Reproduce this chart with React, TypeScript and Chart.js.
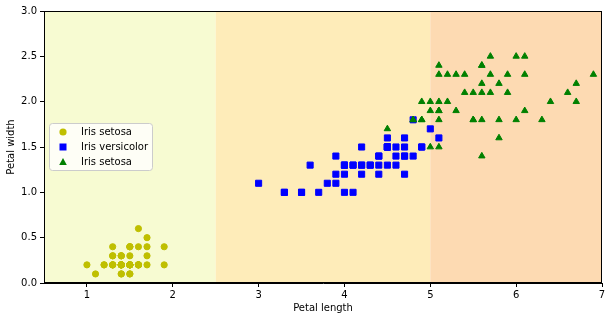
import React, { useEffect, useRef } from "react";
import { Chart, registerables } from "chart.js";
Chart.register(...registerables);

const setosaLength = [1.4,1.4,1.3,1.5,1.4,1.7,1.4,1.5,1.4,1.5,1.5,1.6,1.4,1.1,1.2,1.5,1.3,1.4,1.7,1.5,1.7,1.5,1.0,1.7,1.9,1.6,1.6,1.5,1.4,1.6,1.6,1.5,1.5,1.4,1.5,1.2,1.3,1.4,1.3,1.5,1.3,1.3,1.3,1.6,1.9,1.4,1.6,1.4,1.5,1.4];
const setosaWidth = [0.2,0.2,0.2,0.2,0.2,0.4,0.3,0.2,0.2,0.1,0.2,0.2,0.1,0.1,0.2,0.4,0.4,0.3,0.3,0.3,0.2,0.4,0.2,0.5,0.2,0.2,0.4,0.2,0.2,0.2,0.2,0.4,0.1,0.2,0.2,0.2,0.2,0.1,0.2,0.2,0.3,0.3,0.2,0.6,0.4,0.3,0.2,0.2,0.2,0.2];
const versicolorLength = [4.7,4.5,4.9,4.0,4.6,4.5,4.7,3.3,4.6,3.9,3.5,4.2,4.0,4.7,3.6,4.4,4.5,4.1,4.5,3.9,4.8,4.0,4.9,4.7,4.3,4.4,4.8,5.0,4.5,3.5,3.8,3.7,3.9,5.1,4.5,4.5,4.7,4.4,4.1,4.0,4.4,4.6,4.0,3.3,4.2,4.2,4.2,4.3,3.0,4.1];
const versicolorWidth = [1.4,1.5,1.5,1.3,1.5,1.3,1.6,1.0,1.3,1.4,1.0,1.5,1.0,1.4,1.3,1.4,1.5,1.0,1.5,1.1,1.8,1.3,1.5,1.2,1.3,1.4,1.4,1.7,1.5,1.0,1.1,1.0,1.2,1.6,1.5,1.6,1.5,1.3,1.3,1.3,1.2,1.4,1.2,1.0,1.3,1.2,1.3,1.3,1.1,1.3];
const virginicaLength = [6.0,5.1,5.9,5.6,5.8,6.6,4.5,6.3,5.8,6.1,5.1,5.3,5.5,5.0,5.1,5.3,5.5,6.7,6.9,5.0,5.7,4.9,6.7,4.9,5.7,6.0,4.8,4.9,5.6,5.8,6.1,6.4,5.6,5.1,5.6,6.1,5.6,5.5,4.8,5.4,5.6,5.1,5.1,5.9,5.7,5.2,5.0,5.2,5.4,5.1];
const virginicaWidth = [2.5,1.9,2.1,1.8,2.2,2.1,1.7,1.8,1.8,2.5,2.0,1.9,2.1,2.0,2.4,2.3,1.8,2.2,2.3,1.5,2.3,2.0,2.0,1.8,2.1,1.8,1.8,1.8,2.1,1.6,1.9,2.0,2.2,1.5,1.4,2.3,2.4,1.8,1.8,2.1,2.4,2.3,1.9,2.3,2.5,2.3,1.9,2.0,2.3,1.8];

const legendLabels = ["Iris setosa", "Iris versicolor", "Iris setosa"];
const zoneEdges = [0.5, 2.5, 5.0, 7.0];
const zoneColors = ["rgb(247,251,210)", "rgb(254,236,185)", "rgb(253,218,178)"];
const xTicks = [1, 2, 3, 4, 5, 6, 7];
const yTicks = [0, 0.5, 1, 1.5, 2, 2.5, 3];

const FONT = "'DejaVu Sans', sans-serif";

const toPoints = (xs: number[], ys: number[]) => xs.map((x, i) => ({ x, y: ys[i] }));

const bgPlugin = {
  id: "bgZones",
  beforeDraw(chart: any) {
    const { ctx, chartArea, scales } = chart;
    const x = scales.x;
    ctx.save();
    for (let i = 0; i < zoneColors.length; i++) {
      const a = Math.max(chartArea.left, x.getPixelForValue(zoneEdges[i]));
      const b = Math.min(chartArea.right, x.getPixelForValue(zoneEdges[i + 1]));
      ctx.fillStyle = zoneColors[i];
      ctx.fillRect(a, chartArea.top, b - a, chartArea.bottom - chartArea.top);
    }
    ctx.restore();
  },
  afterDraw(chart: any) {
    const { ctx, chartArea } = chart;
    ctx.save();
    ctx.strokeStyle = "#000";
    ctx.lineWidth = 1;
    ctx.strokeRect(Math.round(chartArea.left) + 0.5, Math.round(chartArea.top) + 0.5,
      Math.round(chartArea.right - chartArea.left) - 1, Math.round(chartArea.bottom - chartArea.top) - 1);
    // legend
    const lx = 49.5, ly = 123.5, lw = 103, lh = 47, r = 3;
    ctx.beginPath();
    ctx.moveTo(lx + r, ly);
    ctx.lineTo(lx + lw - r, ly);
    ctx.quadraticCurveTo(lx + lw, ly, lx + lw, ly + r);
    ctx.lineTo(lx + lw, ly + lh - r);
    ctx.quadraticCurveTo(lx + lw, ly + lh, lx + lw - r, ly + lh);
    ctx.lineTo(lx + r, ly + lh);
    ctx.quadraticCurveTo(lx, ly + lh, lx, ly + lh - r);
    ctx.lineTo(lx, ly + r);
    ctx.quadraticCurveTo(lx, ly, lx + r, ly);
    ctx.closePath();
    ctx.fillStyle = "rgba(255,255,255,0.8)";
    ctx.fill();
    ctx.strokeStyle = "#cccccc";
    ctx.stroke();
    ctx.font = `10px ${FONT}`;
    ctx.textBaseline = "middle";
    ctx.fillStyle = "#000";
    chart.data.datasets.forEach((ds: any, i: number) => {
      const cy = 132 + i * 15;
      const cx = 63;
      ctx.fillStyle = ds.backgroundColor;
      ctx.beginPath();
      if (ds.pointStyle === "circle") {
        ctx.arc(cx, cy, 3.6, 0, Math.PI * 2);
      } else if (ds.pointStyle === "rect") {
        ctx.rect(cx - 3.5, cy - 3.5, 7, 7);
      } else {
        ctx.moveTo(cx, cy - 4);
        ctx.lineTo(cx + 3.8, cy + 3);
        ctx.lineTo(cx - 3.8, cy + 3);
        ctx.closePath();
      }
      ctx.fill();
      ctx.fillStyle = "#000";
      ctx.textAlign = "left";
      ctx.fillText(legendLabels[i], 81, cy + 0.5);
    });
    ctx.restore();
  },
};

export default function App() {
  const ref = useRef<HTMLCanvasElement>(null);
  useEffect(() => {
    document.body.style.margin = "0";
    const chart = new Chart(ref.current!, {
      type: "scatter",
      data: {
        datasets: [
          {
            label: legendLabels[0],
            data: toPoints(setosaLength, setosaWidth),
            pointStyle: "circle",
            backgroundColor: "#bfbf00",
            borderColor: "#bfbf00",
            borderWidth: 1,
            pointRadius: 3.1,
            order: 2,
          },
          {
            label: legendLabels[1],
            data: toPoints(versicolorLength, versicolorWidth),
            pointStyle: "rect",
            backgroundColor: "#0000ff",
            borderColor: "#0000ff",
            borderWidth: 1,
            pointRadius: 4.3,
            order: 1,
          },
          {
            label: legendLabels[2],
            data: toPoints(virginicaLength, virginicaWidth),
            pointStyle: "triangle",
            backgroundColor: "#008000",
            borderColor: "#008000",
            borderWidth: 1,
            pointRadius: 3.7,
            order: 0,
          },
        ] as any,
      },
      options: {
        animation: false,
        responsive: false,
        maintainAspectRatio: false,
        layout: { padding: { top: 11, right: 10, left: 5, bottom: 7 } },
        plugins: { legend: { display: false }, tooltip: { enabled: false } },
        scales: {
          x: {
            type: "linear",
            min: 0.5,
            max: 7,
            afterBuildTicks: (s: any) => { s.ticks = xTicks.map((v) => ({ value: v })); },
            afterFit: (s: any) => { s.height = 31; },
            grid: { drawOnChartArea: false, drawTicks: true, tickLength: 4, tickColor: "#000" },
            border: { display: true, color: "#000" },
            ticks: { color: "#000", font: { family: FONT, size: 10 }, padding: 2, maxRotation: 0 },
            title: { display: true, text: "Petal length", color: "#000", font: { family: FONT, size: 10 }, padding: 0 },
          },
          y: {
            type: "linear",
            min: 0,
            max: 3,
            afterBuildTicks: (s: any) => { s.ticks = yTicks.map((v) => ({ value: v })); },
            afterFit: (s: any) => { s.width = 39; },
            grid: { drawOnChartArea: false, drawTicks: true, tickLength: 4, tickColor: "#000" },
            border: { display: true, color: "#000" },
            ticks: { color: "#000", font: { family: FONT, size: 10 }, padding: 3, callback: (v: any) => Number(v).toFixed(1) },
            title: { display: true, text: "Petal width", color: "#000", font: { family: FONT, size: 10 }, padding: 0 },
          },
        },
      },
      plugins: [bgPlugin],
    });
    return () => chart.destroy();
  }, []);
  return (
    <div style={{ position: "absolute", left: 0, top: 0, width: 612, height: 321, background: "#fff" }}>
      <canvas ref={ref} width={612} height={321} style={{ width: 612, height: 321 }} />
    </div>
  );
}
